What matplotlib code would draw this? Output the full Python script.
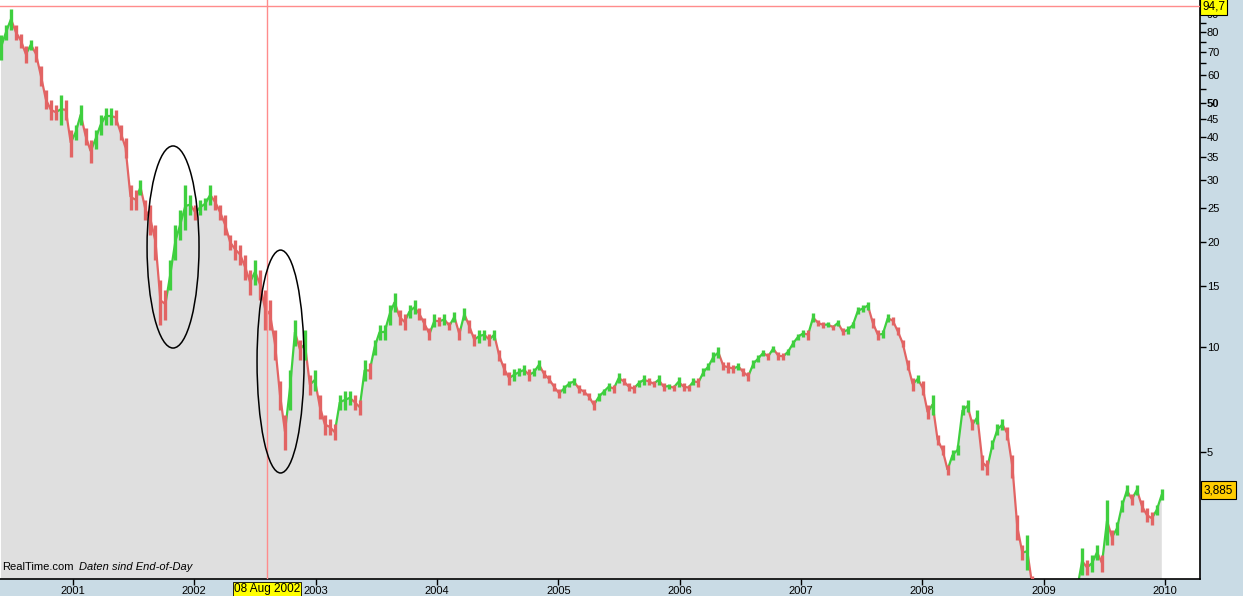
import pandas as pd
import numpy as np
import matplotlib
matplotlib.use("Agg")
import matplotlib.pyplot as plt
import matplotlib.dates as mdates
from matplotlib.patches import Ellipse
from matplotlib.collections import LineCollection

plt.rcParams['font.family'] = ['Liberation Sans', 'DejaVu Sans']

# Kurse alle 15 Tage ab Ende Mai 2000: Tief und Hoch
start = "2000-05-29"
lows = [
    66.4, 75.8, 81, 75.8, 72, 65, 71, 65.5, 56, 48,
    44.7, 44.7, 43.3, 44.7, 35, 39.2, 43.3, 37.9, 33.6, 37,
    40.5, 43.3, 43.3, 43.3, 39.2, 34.8, 24.7, 24.7, 27.3, 23.1,
    20.9, 17.8, 11.6, 11.95, 14.6, 17.8, 20.3, 21.6, 23.9, 23.1,
    23.9, 24.7, 25.5, 24.7, 23.1, 20.9, 19.0, 17.8, 17.2, 15.6,
    14.1, 15.1, 13.6, 11.2, 11.2, 9.2, 6.6, 5.07, 6.6, 10.1,
    9.2, 9.2, 7.3, 7.5, 6.2, 5.6, 5.6, 5.4, 6.6, 6.6,
    6.8, 6.6, 6.4, 8.0, 8.1, 9.5, 10.5, 10.5, 11.6, 12.6,
    11.6, 11.2, 12.1, 12.4, 11.95, 11.2, 10.5, 11.4, 11.5, 11.6,
    11.2, 11.8, 10.5, 11.95, 11.0, 10.1, 10.3, 10.5, 10.1, 10.5,
    9.1, 8.3, 7.8, 8.0, 8.25, 8.3, 8.0, 8.25, 8.6, 8.15,
    7.9, 7.5, 7.15, 7.4, 7.7, 7.8, 7.4, 7.3, 7.05, 6.6,
    7.0, 7.3, 7.5, 7.4, 7.9, 7.8, 7.5, 7.4, 7.7, 7.8,
    7.8, 7.7, 7.8, 7.5, 7.6, 7.5, 7.7, 7.5, 7.5, 7.8,
    7.7, 8.25, 8.6, 9.05, 9.3, 8.6, 8.45, 8.45, 8.6, 8.25,
    8.0, 8.7, 9.05, 9.45, 9.2, 9.7, 9.2, 9.2, 9.5, 10.0,
    10.5, 10.7, 10.5, 11.8, 11.5, 11.35, 11.4, 11.2, 11.5, 10.8,
    10.9, 11.35, 12.4, 12.6, 12.8, 11.35, 10.5, 10.6, 11.8, 11.6,
    10.8, 10.0, 8.6, 7.5, 7.9, 7.3, 6.2, 6.4, 5.24, 4.9,
    4.3, 4.75, 4.9, 6.4, 6.5, 5.8, 6.0, 4.44, 4.3, 5.1,
    5.6, 5.8, 5.4, 4.2, 2.8, 2.45, 2.3, 1.95, 1.8, 1.65,
    1.55, 1.5, 1.45, 1.5, 1.6, 1.75, 1.9, 2.22, 2.22, 2.27,
    2.45, 2.27, 2.71, 2.71, 2.89, 3.37, 3.74, 3.53, 3.77, 3.37,
    3.15, 3.09, 3.30, 3.64,
]
highs = [
    78.3, 83.7, 93, 83.7, 79, 73, 76, 73, 64, 54.5,
    51, 49.4, 52.7, 51, 42, 43.3, 49.4, 42.5, 39.2, 42,
    46.2, 48.5, 48.5, 47.8, 43.3, 39.7, 29.1, 28.2, 30.1, 26.4,
    25.5, 22.4, 15.6, 14.6, 17.8, 22.4, 24.7, 29.1, 27.3, 25.5,
    26.4, 26.8, 29.1, 27.3, 25.5, 23.9, 20.9, 20.3, 19.6, 18.3,
    16.6, 17.8, 16.6, 14.6, 13.6, 11.2, 8.0, 6.39, 8.6, 11.95,
    10.5, 11.2, 8.3, 8.6, 7.3, 6.4, 6.2, 6.0, 7.3, 7.5,
    7.5, 7.3, 7.05, 9.2, 9.0, 10.5, 11.6, 11.6, 13.2, 14.3,
    12.8, 12.4, 13.2, 13.6, 12.9, 12.1, 11.3, 12.4, 12.2, 12.4,
    11.8, 12.6, 11.3, 12.9, 11.95, 10.9, 11.2, 11.2, 10.9, 11.2,
    9.8, 9.0, 8.5, 8.65, 8.7, 8.9, 8.65, 8.7, 9.2, 8.6,
    8.3, 7.9, 7.6, 7.8, 8.0, 8.15, 7.8, 7.6, 7.4, 7.05,
    7.4, 7.6, 7.9, 7.8, 8.4, 8.15, 7.9, 7.8, 8.05, 8.3,
    8.15, 8.0, 8.3, 7.9, 7.85, 7.8, 8.2, 7.9, 7.8, 8.15,
    8.15, 8.7, 9.0, 9.7, 10.0, 9.05, 9.05, 8.9, 9.0, 8.7,
    8.5, 9.2, 9.5, 9.8, 9.6, 10.1, 9.7, 9.6, 9.9, 10.5,
    10.9, 11.2, 11.2, 12.5, 11.95, 11.8, 11.8, 11.6, 11.95, 11.3,
    11.5, 11.8, 13.0, 13.2, 13.5, 12.1, 11.2, 11.2, 12.4, 12.2,
    11.4, 10.5, 9.2, 8.15, 8.3, 8.0, 6.8, 7.3, 5.6, 5.24,
    4.59, 5.07, 5.24, 6.8, 7.05, 6.2, 6.6, 4.9, 4.75, 5.4,
    6.0, 6.2, 5.9, 4.9, 3.3, 2.7, 2.9, 2.2, 2.05, 1.9,
    1.8, 1.7, 1.65, 1.75, 1.85, 2.0, 2.15, 2.65, 2.45, 2.54,
    2.71, 2.54, 3.64, 2.99, 3.15, 3.64, 4.02, 3.8, 4.02, 3.64,
    3.45, 3.37, 3.53, 3.92,
]
last_close = 3.885
hline_value = 94.7
cursor_date = "2002-08-08"
years = list(range(2001, 2011))
major_ticks = [5, 10, 15, 20, 25, 30, 35, 40, 45, 50, 60, 70, 80, 90]
minor_ticks = [55, 65, 75, 85, 95]

dates = pd.date_range(start, periods=len(lows), freq="15D")
lo = np.array(lows)
hi = np.array(highs)
mid = (lo + hi) / 2

green = '#3fcf3f'
red = '#e26464'
up = np.r_[True, mid[1:] >= mid[:-1]]
farben = [green if u else red for u in up]

fig = plt.figure(figsize=(12.43, 5.96), dpi=100, facecolor='#c9dbe5')
ax = fig.add_axes([0, 17 / 596, 1200 / 1243, 579 / 596])
ax.set_facecolor('white')
ax.set_yscale('log')
ax.set_ylim(2.164, 98.7)
ax.set_xlim(pd.Timestamp("2000-05-26"), pd.Timestamp("2010-04-17"))

# graue Flaeche unter dem Kurs
ax.fill_between(dates, mid, 0.5, color='#dfdfdf', lw=0, zorder=1)

# Verbindungslinie + Kursbalken
xn = mdates.date2num(dates)
segs = [[(xn[i - 1], mid[i - 1]), (xn[i], mid[i])] for i in range(1, len(xn))]
ax.add_collection(LineCollection(segs, colors=farben[1:], linewidths=1.6, zorder=2))
ax.vlines(dates, lo, hi, colors=farben, linewidth=2.4, zorder=3)

# Fadenkreuz
ax.axhline(hline_value, color='#ff8c8c', lw=1, zorder=4)
ax.axvline(pd.Timestamp(cursor_date), color='#ff8c8c', lw=1, zorder=4)

# Ellipsen
ax.add_patch(Ellipse((0.1442, 0.5734), 0.0433, 0.349, transform=ax.transAxes,
                     fill=False, ec='black', lw=1.1, zorder=5))
ax.add_patch(Ellipse((0.2338, 0.3756), 0.0392, 0.385, transform=ax.transAxes,
                     fill=False, ec='black', lw=1.1, zorder=5))

# Achsen
for s in ['top', 'left']:
    ax.spines[s].set_visible(False)
ax.spines['right'].set_linewidth(1.2)
ax.spines['bottom'].set_linewidth(1.2)
ax.yaxis.tick_right()
ax.set_yticks(major_ticks)
ax.set_yticklabels([str(t) for t in major_ticks])
ax.set_yticks(minor_ticks, minor=True)
ax.yaxis.set_minor_formatter(plt.NullFormatter())
for lab in ax.get_yticklabels():
    if lab.get_text() == '50':
        lab.set_fontweight('bold')
        lab.set_fontsize(9)
ax.tick_params(axis='y', which='both', direction='out', length=4, width=1,
               labelsize=8, pad=1)
ax.set_xticks([pd.Timestamp(f"{y}-01-01") for y in years])
ax.set_xticklabels([str(y) for y in years])
ax.tick_params(axis='x', direction='out', length=4, width=1, labelsize=8, pad=1)

# Beschriftungen
ax.annotate(f"{hline_value}".replace('.', ','), xy=(1.0, hline_value),
            xycoords=('axes fraction', 'data'), xytext=(1.5, 0), textcoords='offset points',
            ha='left', va='center', fontsize=8.5,
            bbox=dict(boxstyle='square,pad=0.2', fc='#ffff00', ec='black', lw=0.8))
ax.annotate(f"{last_close}".replace('.', ','), xy=(1.0, last_close),
            xycoords=('axes fraction', 'data'), xytext=(2.5, 0), textcoords='offset points',
            ha='left', va='center', fontsize=8.5,
            bbox=dict(boxstyle='square,pad=0.25', fc='#ffcc00', ec='black', lw=0.8))
ax.annotate("08 Aug 2002", xy=(pd.Timestamp(cursor_date), 0),
            xycoords=('data', 'axes fraction'), xytext=(0, -7.5), textcoords='offset points',
            ha='center', va='center', fontsize=8.5, zorder=10,
            bbox=dict(boxstyle='square,pad=0.1', fc='#ffff00', ec='black', lw=0.6))
ax.text(0.002, 0.012, "RealTime.com", transform=ax.transAxes, fontsize=8,
        ha='left', va='bottom', zorder=6)
ax.text(0.0655, 0.012, "Daten sind End-of-Day", transform=ax.transAxes, fontsize=8,
        style='italic', ha='left', va='bottom', zorder=6)

plt.savefig("out.png", dpi=100, facecolor=fig.get_facecolor())
